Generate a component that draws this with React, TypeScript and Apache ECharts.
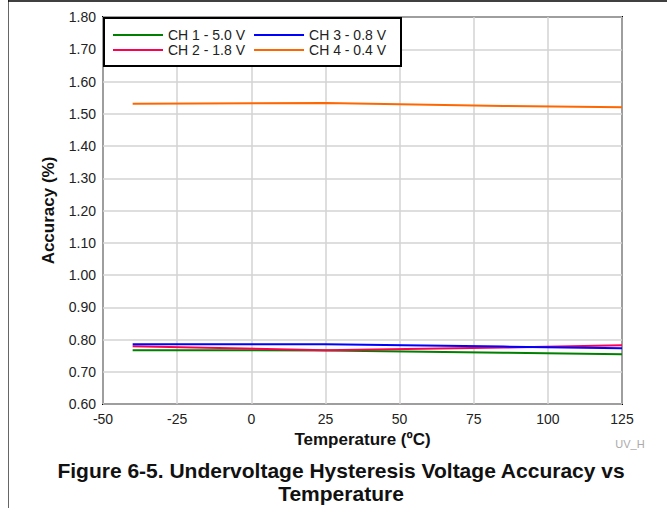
import React, { useEffect, useRef } from "react";
import * as echarts from "echarts";

const temps = [-40, 25, 85, 125];
const ch1 = [0.767, 0.766, 0.759, 0.754];
const ch2 = [0.779, 0.767, 0.775, 0.782];
const ch3 = [0.785, 0.785, 0.778, 0.773];
const ch4 = [1.531, 1.533, 1.524, 1.52];
const seriesNames = ["CH 1 - 5.0 V", "CH 2 - 1.8 V", "CH 3 - 0.8 V", "CH 4 - 0.4 V"];
const seriesColors = ["#008000", "#ff0050", "#0000ff", "#ff6600"];
const seriesData = [ch1, ch2, ch3, ch4];
const xTicks = [-50, -25, 0, 25, 50, 75, 100, 125];
const yTicks = [0.6, 0.7, 0.8, 0.9, 1.0, 1.1, 1.2, 1.3, 1.4, 1.5, 1.6, 1.7, 1.8];

const FONT = "'Liberation Sans', Arial, Helvetica, sans-serif";

export default function App() {
  const ref = useRef<HTMLDivElement>(null);
  useEffect(() => {
    document.body.style.margin = "0";
    const chart = echarts.init(ref.current!, null, { renderer: "svg" });
    const legendCommon = {
      icon: "rect",
      itemWidth: 50,
      itemHeight: 2,
      itemGap: 9,
      orient: "horizontal" as const,
      padding: 0,
      z: 20,
      textStyle: { fontFamily: FONT, fontSize: 14, color: "#222" },
    };
    chart.setOption({
      animation: false,
      backgroundColor: "#fff",
      textStyle: { fontFamily: FONT },
      grid: {
        left: 103,
        right: 45,
        top: 17,
        bottom: 104,
        show: true,
        borderColor: "#000",
        borderWidth: 2,
        backgroundColor: "transparent",
      },
      legend: [
        { ...legendCommon, data: [seriesNames[0], seriesNames[2]], left: 113, top: 28 },
        { ...legendCommon, data: [seriesNames[1], seriesNames[3]], left: 113, top: 43 },
      ],
      xAxis: {
        type: "value",
        min: xTicks[0],
        max: xTicks[xTicks.length - 1],
        interval: 25,
        name: "Temperature (ºC)",
        nameLocation: "middle",
        nameGap: 25,
        nameTextStyle: { fontFamily: FONT, fontSize: 17, fontWeight: "bold", color: "#111" },
        axisLine: { show: false },
        axisTick: { show: false },
        axisLabel: { fontFamily: FONT, fontSize: 14, color: "#222", margin: 8 },
        splitLine: { show: true, lineStyle: { color: "#d3d3d3", width: 1.5 } },
      },
      yAxis: {
        type: "value",
        min: yTicks[0],
        max: yTicks[yTicks.length - 1],
        interval: 0.1,
        name: "Accuracy (%)",
        nameLocation: "middle",
        nameGap: 46,
        nameTextStyle: { fontFamily: FONT, fontSize: 17, fontWeight: "bold", color: "#111" },
        axisLine: { show: false },
        axisTick: { show: false },
        axisLabel: {
          fontFamily: FONT,
          fontSize: 14,
          color: "#222",
          margin: 7,
          formatter: (v: number) => v.toFixed(2),
        },
        splitLine: { show: true, lineStyle: { color: "#d3d3d3", width: 1.5 } },
      },
      series: seriesNames.map((name, i) => ({
        name,
        type: "line",
        data: temps.map((t, j) => [t, seriesData[i][j]]),
        symbol: "none",
        color: seriesColors[i],
        lineStyle: { color: seriesColors[i], width: 2 },
        z: 3,
      })),
      graphic: [
        {
          type: "rect",
          shape: { x: 104, y: 18, width: 297, height: 48 },
          style: { fill: "#fff", stroke: "#000", lineWidth: 2 },
          z: 5,
        },
        {
          type: "line",
          shape: { x1: 8.5, y1: 0, x2: 8.5, y2: 508 },
          style: { stroke: "#666", lineWidth: 1 },
        },
        {
          type: "line",
          shape: { x1: 8, y1: 1, x2: 667, y2: 1 },
          style: { stroke: "#000", lineWidth: 1.5 },
        },
        {
          type: "text",
          x: 630,
          y: 444,
          style: {
            text: "UV_H",
            fontFamily: FONT,
            fontSize: 11,
            fill: "#aaa",
            align: "center",
            verticalAlign: "middle",
          },
        },
        {
          type: "text",
          x: 341,
          y: 470,
          style: {
            text: "Figure 6-5. Undervoltage Hysteresis Voltage Accuracy vs",
            fontFamily: FONT,
            fontSize: 21,
            fontWeight: "bold",
            fill: "#111",
            align: "center",
            verticalAlign: "middle",
          },
        },
        {
          type: "text",
          x: 341,
          y: 493,
          style: {
            text: "Temperature",
            fontFamily: FONT,
            fontSize: 21,
            fontWeight: "bold",
            fill: "#111",
            align: "center",
            verticalAlign: "middle",
          },
        },
      ],
    });
    return () => chart.dispose();
  }, []);
  return (
    <div
      ref={ref}
      style={{ position: "absolute", left: 0, top: 0, width: 667, height: 508 }}
    />
  );
}
